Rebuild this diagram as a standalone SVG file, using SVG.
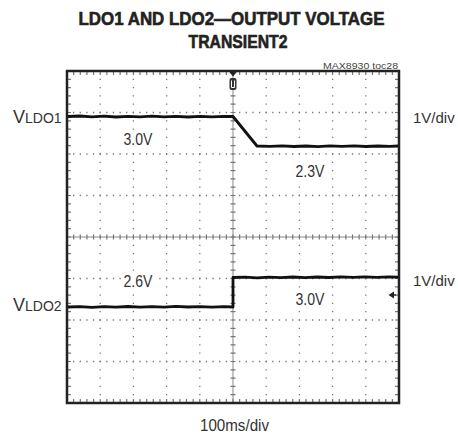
<svg xmlns="http://www.w3.org/2000/svg" width="458" height="436" viewBox="0 0 458 436">
<style>
.title{font-family:"Liberation Sans",Arial,sans-serif;font-weight:bold;font-size:18.5px;fill:#222;stroke:#222;stroke-width:0.6}
.lbl{font-family:"Liberation Sans",Arial,sans-serif;font-size:17px;fill:#333}
.div{font-family:"Liberation Sans",Arial,sans-serif;font-size:15px;fill:#333}
.small{font-family:"Liberation Sans",Arial,sans-serif;font-size:9px;fill:#444}
.hdot{stroke:#777;stroke-width:1.3;stroke-dasharray:1.3 5.34;stroke-dashoffset:0.65;fill:none}
.vdot{stroke:#777;stroke-width:1.3;stroke-dasharray:1.3 7;stroke-dashoffset:0.65;fill:none}
.axis{stroke:#888;stroke-width:1;fill:none}
.htick{stroke:#777;stroke-width:5;stroke-dasharray:1.2 5.44;stroke-dashoffset:0.6;fill:none}
.vtick{stroke:#777;stroke-width:5;stroke-dasharray:1.2 7.1;stroke-dashoffset:0.6;fill:none}
.etick{stroke:#777;stroke-width:3;fill:none}
.trace{stroke:#111;stroke-width:2.8;fill:none;stroke-linejoin:round}
.bg{fill:#fff}
</style>
<rect width="458" height="436" fill="#fff"/>
<g id="title">
<text class="title" x="231.5" y="25" text-anchor="middle" textLength="306" lengthAdjust="spacingAndGlyphs">LDO1 AND LDO2—OUTPUT VOLTAGE</text>
<text class="title" x="238" y="48" text-anchor="middle" textLength="99" lengthAdjust="spacingAndGlyphs">TRANSIENT2</text>
<text class="small" x="398" y="69" text-anchor="end" textLength="75" lengthAdjust="spacingAndGlyphs">MAX8930 toc28</text>
</g>
<g id="scope">
<rect x="67" y="71" width="332" height="332" fill="#fff"/>
<path class="hdot" d="M67 112.5H399M67 154H399M67 195.5H399M67 278.5H399M67 320H399M67 361.5H399"/>
<path class="vdot" d="M100.2 71V403M133.4 71V403M166.6 71V403M199.8 71V403M266.2 71V403M299.4 71V403M332.6 71V403M365.8 71V403"/>
<path class="axis" d="M67 237H399M233 71V403"/>
<path class="htick" d="M67 237H399"/>
<path class="vtick" d="M233 71V403"/>
<path class="etick" style="stroke-dasharray:1.2 5.44;stroke-dashoffset:0.6" d="M67 73.5H399M67 400.5H399"/>
<path class="etick" style="stroke-dasharray:1.2 7.1;stroke-dashoffset:0.6" d="M69.5 71V403M396.5 71V403"/>
<rect x="67" y="71" width="332" height="332" fill="none" stroke="#222" stroke-width="2.5"/>
<polygon points="228.5,71 237.5,71 233,76.5" fill="#222"/>
<rect x="229.5" y="78" width="7" height="12" rx="2" fill="#333"/>
<path d="M231.5 80.5V87.5H234.5V80.5" stroke="#fff" stroke-width="1" fill="none"/>
<polygon points="388.5,295 394,291.5 394,298.5" fill="#222"/>
<path d="M393 295H396" stroke="#222" stroke-width="1.5"/>
</g>
<g id="traces">
<polyline class="trace" points="68,116.5 80,116 92,116.8 104,116.2 116,117 128,116.3 140,116.9 152,116.2 164,116.8 176,116.3 188,117 200,116.4 212,116.8 224,116.3 233,116.5 257,146 270,146.4 282,145.8 294,146.5 306,146 318,146.6 330,145.9 342,146.4 354,145.8 366,146.5 378,146 390,146.4 398,146"/>
<polyline class="trace" points="68,307 80,306.6 92,307.3 104,306.7 116,307.2 128,306.5 140,307.2 152,306.6 164,307.1 176,306.4 188,307 200,306.6 212,307.2 224,306.7 233,307 233,277.5 245,277.2 257,277.8 269,277.1 281,277.7 293,277 305,277.6 317,277 329,277.5 341,276.9 353,277.4 365,276.8 377,277.3 389,276.9 398,277.2"/>
</g>
<g id="labels">
<rect class="bg" x="121" y="130" width="34" height="18"/>
<rect class="bg" x="293" y="162" width="34" height="18"/>
<rect class="bg" x="121" y="272" width="34" height="18"/>
<rect class="bg" x="293" y="290" width="34" height="18"/>
<text class="lbl" x="13" y="123"><tspan font-size="18">V</tspan><tspan font-size="14">LDO1</tspan></text>
<text class="lbl" x="138" y="145" text-anchor="middle" textLength="29" lengthAdjust="spacingAndGlyphs">3.0V</text>
<text class="lbl" x="310" y="177" text-anchor="middle" textLength="29" lengthAdjust="spacingAndGlyphs">2.3V</text>
<text class="div" x="413" y="123">1V/div</text>
<text class="lbl" x="138" y="287" text-anchor="middle" textLength="29" lengthAdjust="spacingAndGlyphs">2.6V</text>
<text class="lbl" x="13" y="311"><tspan font-size="18">V</tspan><tspan font-size="14">LDO2</tspan></text>
<text class="lbl" x="310" y="305" text-anchor="middle" textLength="29" lengthAdjust="spacingAndGlyphs">3.0V</text>
<text class="div" x="413" y="286">1V/div</text>
<text class="lbl" x="234.5" y="431" text-anchor="middle" textLength="69" lengthAdjust="spacingAndGlyphs">100ms/div</text>
</g>
</svg>
